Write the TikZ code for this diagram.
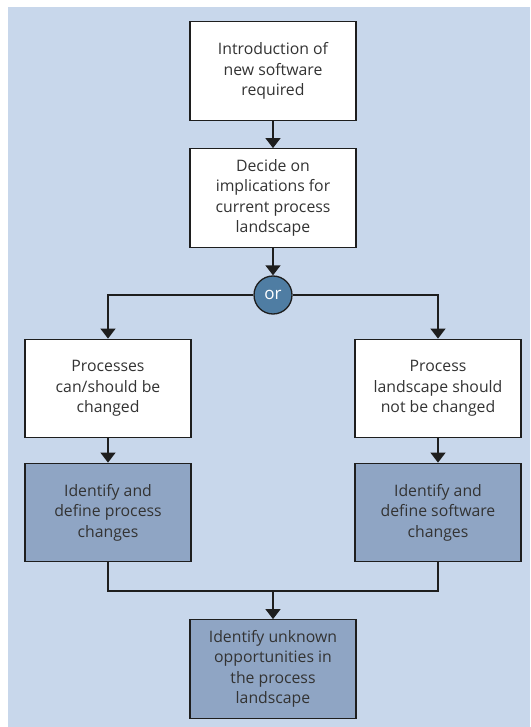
\documentclass[tikz,border=0pt]{standalone}
\usepackage{fontspec}
\setmainfont{Open Sans}
\usetikzlibrary{arrows.meta}
\definecolor{panel}{HTML}{C8D7EB}
\definecolor{stepfill}{HTML}{8FA5C4}
\definecolor{orfill}{HTML}{4F7DA3}
\definecolor{ink}{HTML}{333333}
\definecolor{edge}{HTML}{1E1E1E}
\begin{document}
\begin{tikzpicture}[x=1pt,y=-1pt,
  box/.style={draw=edge, line width=1.3pt, fill=white, minimum width=166pt,
    minimum height=98.5pt, align=center, text=ink, inner sep=0pt,
    font=\fontsize{15.8}{20.5}\selectfont},
  darkbox/.style={box, fill=stepfill},
  orbox/.style={circle, draw=edge, line width=1.3pt, fill=orfill,
    minimum size=38pt, inner sep=0pt, text=white,
    font=\fontsize{17}{18}\selectfont},
  link/.style={draw=edge, line width=1.3pt},
  arr/.style={link, -{Triangle[width=15pt,length=10pt]}}
]
% page and panel
\fill[white] (0,0) rectangle (530,727);
\useasboundingbox (0,0) rectangle (530,727);
\fill[panel] (8,7) rectangle (530,727);

% boxes
\node[box] (intro) at (273,71) {Introduction of\\new software\\required};
\node[box] (decide) at (273,198) {Decide on\\implications for\\current process\\landscape};
\node[orbox] (or) at (273,295) {or};
\node[box] (pchg) at (108,388.5) {Processes\\can/should be\\changed};
\node[box] (pkeep) at (438,388.5) {Process\\landscape should\\not be changed};
\node[darkbox] (defp) at (108,512.5) {Identify and\\define process\\changes};
\node[darkbox] (defs) at (438,512.5) {Identify and\\define software\\changes};
\node[darkbox] (opps) at (273,669) {Identify unknown\\opportunities in\\the process\\landscape};

% connectors
\draw[arr] (intro) -- (decide);
\draw[arr] (decide) -- (or);
\draw[arr] (or.west) -| (pchg.north);
\draw[arr] (or.east) -| (pkeep.north);
\draw[arr] (pchg) -- (defp);
\draw[arr] (pkeep) -- (defs);
\coordinate (join) at (273,591);
\draw[link] (defp.south) |- (join) -| (defs.south);
\draw[arr] (join) -- (opps.north);
\end{tikzpicture}
\end{document}
